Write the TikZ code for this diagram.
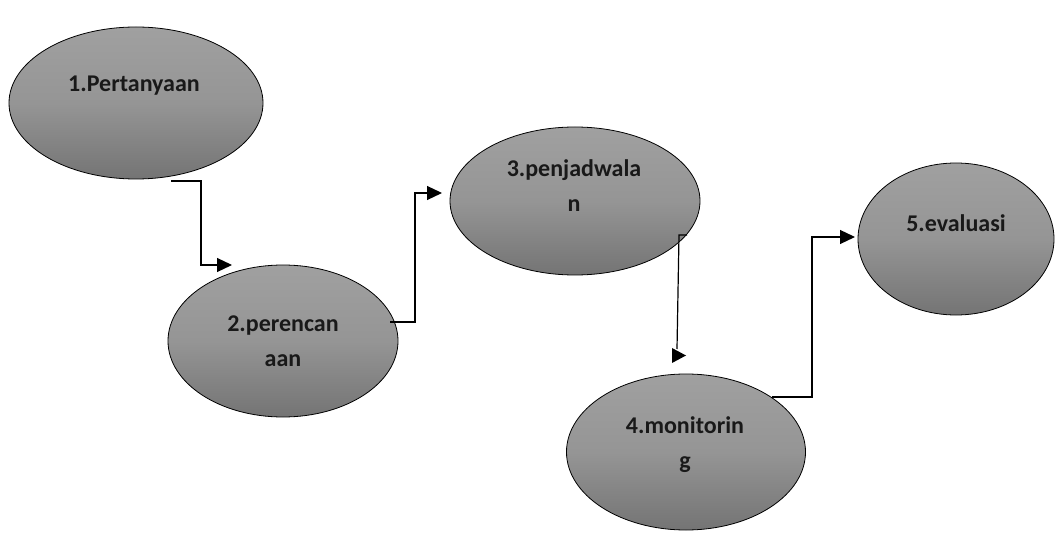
\documentclass[tikz,border=0pt]{standalone}
\usepackage{fontspec}
\setmainfont{Carlito}
\usetikzlibrary{shapes.geometric,arrows.meta}

\begin{document}
\begin{tikzpicture}[x=1bp,y=-1bp,
  stage/.style={ellipse, draw=black, line width=0.8bp, inner sep=0pt,
    top color=stagetop, bottom color=stagebottom, middle color=stagemid},
  lbl/.style={font=\bfseries\fontsize{24bp}{35bp}\selectfont, align=center,
    text=black!90, inner sep=0pt, anchor=base},
  link/.style={line width=1.2bp, -{Triangle[length=15bp,width=14bp]}},
  wire/.style={line width=1.2bp},
  tip/.style={fill=black, draw=none}]
\definecolor{stagetop}{HTML}{A0A0A0}
\definecolor{stagemid}{HTML}{959595}
\definecolor{stagebottom}{HTML}{747474}
\useasboundingbox (0,0) rectangle (1056,533);

% stages
\node[stage, minimum width=254bp, minimum height=152bp] (e1) at (136,103) {};
\node[stage, minimum width=230bp, minimum height=152bp] (e2) at (283,341) {};
\node[stage, minimum width=250bp, minimum height=148bp] (e3) at (575,201) {};
\node[stage, minimum width=239bp, minimum height=156bp] (e4) at (686,452) {};
\node[stage, minimum width=196bp, minimum height=152bp] (e5) at (956,239) {};

% labels (set in the upper part of each stage; base = last line)
\node[lbl] (t1) at (134,92) {1.Pertanyaan};
\node[lbl] (t2) at (283,367) {2.perencan\\aan};
\node[lbl] (t3) at (574,212) {3.penjadwala\\n};
\node[lbl] (t4) at (685,468) {4.monitorin\\g};
\node[lbl] (t5) at (956,232) {5.evaluasi};

% connector end points
\coordinate (s1) at (171,181);
\coordinate (d2) at (232,265);
\coordinate (s2) at (390,322);
\coordinate (d3) at (442,193);
\coordinate (s3) at (687,235);
\coordinate (d4) at (677,349);
\coordinate (s4) at (772,397);
\coordinate (d5) at (855,237);

% elbow connectors
\draw[link] (s1) -- (201,181) -- (201,265) -- (d2);
\draw[link] (s2) -- (415,322) -- (415,193) -- (d3);
\draw[wire] (s3) -- (679,235) -- (d4);
\fill[tip] (672,348) -- (686,355.5) -- (672,363) -- cycle;
\draw[link] (s4) -- (812,397) -- (812,237) -- (d5);
\end{tikzpicture}
\end{document}
